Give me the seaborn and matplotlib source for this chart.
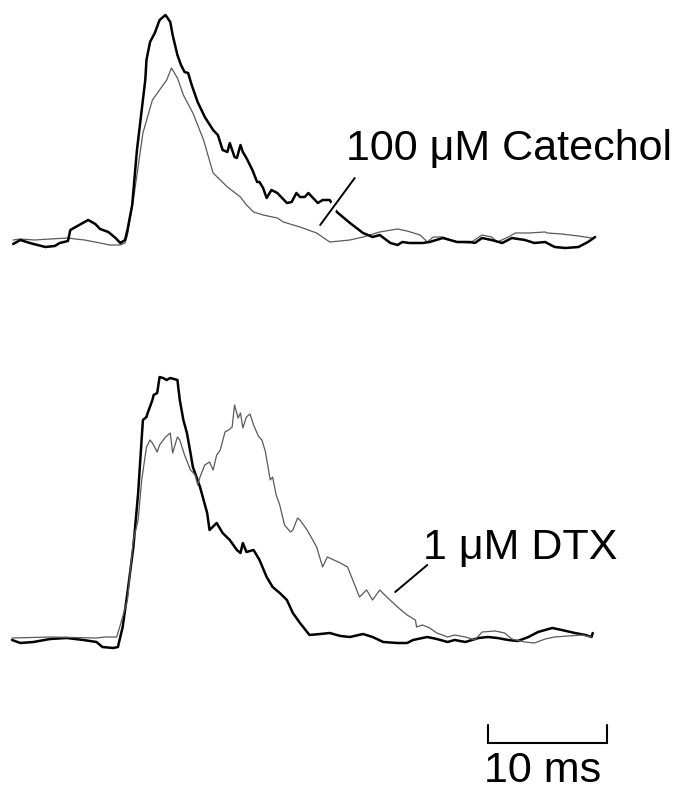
import numpy as np
import pandas as pd
import matplotlib
matplotlib.use("Agg")
import matplotlib.pyplot as plt
import matplotlib.patheffects as pe
import seaborn as sns

# ---------------- data (time in ms, amplitude in arbitrary units) ----------------
top_ctrl_t = [0.1, 0.7, 1.5, 2.8, 3.6, 4.0, 4.7, 4.9, 5.5, 6.4, 7.0, 7.4, 8.1, 8.7, 9.1, 9.5, 9.7,
              10.1, 10.5, 11.2, 11.3, 11.6, 12.0, 12.4, 12.9, 13.3, 13.5, 13.9, 14.2, 14.5, 14.8,
              15.1, 15.6, 16.2, 16.9, 17.3, 17.7, 18.1, 18.3, 18.7, 18.9, 19.2, 19.4, 19.7, 20.2,
              20.6, 20.8, 21.1, 21.4, 21.8, 22.3, 22.7, 23.1, 23.5, 23.9, 24.2, 24.6, 24.9, 25.3,
              25.7, 26.1, 26.7, 27.3, 28.4, 29.5, 30.3, 30.9, 31.8, 32.4, 32.8, 33.4, 34.5, 35.1,
              36.2, 37.4, 38.5, 38.9, 39.5, 40.3, 41.2, 42.0, 43.1, 43.9, 44.8, 45.6, 46.5, 47.6,
              48.4, 49.0]
top_ctrl_v = [-3, 1, -2, -6, -5, -2, 0, 11, 15, 21, 17, 12, 9, 3, -2, 1, 11,
              36, 91, 161, 181, 199, 208, 221, 226, 219, 206, 186, 176, 169, 168,
              156, 139, 124, 111, 106, 91, 89, 98, 84, 83, 96, 89, 83, 71,
              59, 59, 53, 43, 51, 48, 43, 38, 39, 48, 44, 44, 48, 43,
              38, 41, 41, 29, 18, 8, 4, 6, -2, -4, -1, -2, -2, -1,
              3, -1, -1, -2, 3, 1, -2, 3, 1, -2, -1, -6, -7, -6,
              -1, 4]

top_drug_t = [0.1, 0.7, 1.9, 3.2, 4.7, 5.3, 6.1, 7.4, 8.2, 9.1, 9.5, 9.7, 10.2, 11.0, 11.8,
              12.4, 13.0, 13.4, 13.9, 14.4, 15.2, 16.1, 16.9, 18.1, 19.2, 19.7, 20.3, 21.1,
              22.3, 22.8, 24.2, 25.6, 26.7, 28.4, 29.5, 30.9, 32.4, 33.2, 34.3, 34.9, 35.4,
              36.2, 37.4, 38.5, 39.5, 40.3, 40.8, 41.7, 42.3, 43.4, 44.8, 45.0, 46.2, 47.6,
              48.7]
top_drug_v = [1, 2, 1, 2, 3, 2, 1, -2, -4, -4, -2, 6, 41, 108, 141,
              151, 161, 173, 163, 146, 128, 101, 68, 54, 44, 36, 29, 26,
              23, 19, 14, 8, -1, 1, 4, 9, 12, 10, 6, -1, 4,
              4, -1, -2, 6, 4, -1, 4, 8, 8, 9, 8, 7, 5,
              3]

bot_ctrl_t = [0.0, 0.7, 1.8, 3.2, 4.6, 6.0, 7.1, 7.6, 8.5, 8.9, 9.3, 9.7, 10.2, 10.6, 11.0,
              11.3, 11.4, 11.8, 11.9, 12.2, 12.4, 12.7, 13.0, 13.3, 13.9, 14.1, 14.4, 14.7,
              15.0, 15.2, 15.8, 16.4, 16.6, 17.2, 17.7, 18.3, 18.9, 19.2, 19.4, 19.7, 20.3,
              20.8, 21.4, 21.9, 22.5, 23.1, 23.6, 24.2, 25.0, 25.9, 26.7, 27.6, 28.4, 29.5,
              30.3, 31.2, 32.4, 33.2, 33.7, 34.9, 35.7, 36.6, 37.2, 38.1, 39.2, 40.0, 40.8,
              41.7, 42.5, 43.4, 44.2, 45.4, 46.2, 47.3, 48.2, 48.7, 48.8]
bot_ctrl_v = [0, -3, -2, 1, 2, 0, -2, -7, -8, -7, 13, 47, 93, 147, 220,
              223, 227, 240, 245, 247, 263, 262, 260, 262, 260, 240, 220, 207,
              187, 173, 153, 127, 110, 117, 107, 100, 90, 87, 97, 88, 90,
              80, 63, 53, 47, 40, 27, 17, 5, 6, 7, 4, 3, 6,
              3, -2, -3, -3, 0, 3, 1, -2, 0, -2, 2, 3, 2,
              0, -1, 3, 8, 12, 10, 7, 5, 3, 7]

bot_drug_t = [0.0, 3.2, 7.1, 7.8, 8.8, 9.1, 9.7, 10.2, 10.6, 10.9, 11.3, 11.6, 11.8, 12.2,
              12.4, 12.9, 13.3, 13.5, 13.9, 14.1, 14.5, 15.0, 15.4, 15.6, 15.8, 16.2, 16.6,
              16.9, 17.2, 17.5, 17.9, 18.2, 18.5, 18.7, 19.0, 19.2, 19.4, 19.7, 20.0, 20.3,
              20.7, 21.0, 21.3, 21.7, 21.9, 22.2, 22.5, 22.9, 23.4, 23.6, 24.0, 24.2, 24.8,
              25.6, 26.1, 26.5, 27.6, 28.2, 29.2, 29.8, 30.3, 30.9, 31.5, 32.4, 33.2, 33.9,
              34.0, 34.5, 35.1, 35.7, 36.6, 37.2, 38.1, 38.9, 39.5, 40.6, 41.4, 42.0, 43.1,
              43.9, 44.8, 45.6, 46.7, 47.9, 48.7]
bot_drug_v = [2, 3, 2, 3, 3, 15, 40, 100, 120, 160, 193, 200, 197, 188,
              195, 203, 207, 187, 203, 200, 185, 170, 165, 155, 163, 175, 178,
              170, 185, 190, 208, 210, 213, 235, 222, 227, 212, 223, 226, 215,
              204, 200, 188, 160, 163, 145, 135, 115, 108, 110, 122, 120, 110,
              93, 73, 83, 77, 73, 43, 50, 40, 50, 43, 33, 25, 20,
              13, 15, 12, 7, 3, 5, 3, 0, 8, 9, 7, 1, -2,
              -3, 1, 3, 4, 5, 3]

label_top = "100 \u03bcM Catechol"
label_bot = "1 \u03bcM DTX"
scale_label = "10 ms"
scale_ms = 10

# ---------------- figure ----------------
sns.set_theme(style="white")
plt.rcParams["font.family"] = ["Liberation Sans", "DejaVu Sans"]

W, H = 694, 790
fig = plt.figure(figsize=(W / 100, H / 100), dpi=100)
fig.patch.set_facecolor("white")

px_per_ms = 11.9
x0_px = 12
xlim = (-x0_px / px_per_ms, (W - x0_px) / px_per_ms)

ax_top = fig.add_axes([0, 0, 1, 1])
ax_bot = fig.add_axes([0, 0, 1, 1])
top_base_px, bot_base_px = 241, 640

thin_kw = dict(color="#5a5a5a", linewidth=0.9)
thick_kw = dict(color="black", linewidth=1.8)

def trace(ax, t, v, **kw):
    df = pd.DataFrame({"t": t, "v": v})
    sns.lineplot(data=df, x="t", y="v", ax=ax, sort=False, estimator=None, legend=False, **kw)

trace(ax_top, top_drug_t, top_drug_v, **thin_kw)
trace(ax_top, top_ctrl_t, top_ctrl_v, **thick_kw)
trace(ax_bot, bot_ctrl_t, bot_ctrl_v, **thick_kw)
trace(ax_bot, bot_drug_t, bot_drug_v, **thin_kw)

for ax, base in ((ax_top, top_base_px), (ax_bot, bot_base_px)):
    ax.set_xlim(*xlim)
    ax.set_ylim(base - H, base)
    ax.set_axis_off()
    ax.patch.set_alpha(0)

# leader lines
ax_top.plot([25.9, 28.8], [16, 63], color="black", linewidth=1.4, zorder=5,
            path_effects=[pe.Stroke(linewidth=6, foreground="white"), pe.Normal()])
ax_bot.plot([32.2, 34.9], [48, 75], color="black", linewidth=1.4, zorder=5)

# labels
ax_top.text(28.1, 81, label_top, fontsize=31, ha="left", va="baseline", color="black")
ax_bot.text(34.5, 81, label_bot, fontsize=31, ha="left", va="baseline", color="black")

# scale bar
sb_x0 = 40.0
ax_bot.plot([sb_x0, sb_x0, sb_x0 + scale_ms, sb_x0 + scale_ms], [-85, -103, -103, -85],
            color="black", linewidth=1.5, solid_joinstyle="miter")
ax_bot.text(sb_x0 - 0.3, -142, scale_label, fontsize=31, ha="left", va="baseline", color="black")

fig.savefig("out.png", dpi=100, facecolor="white")
